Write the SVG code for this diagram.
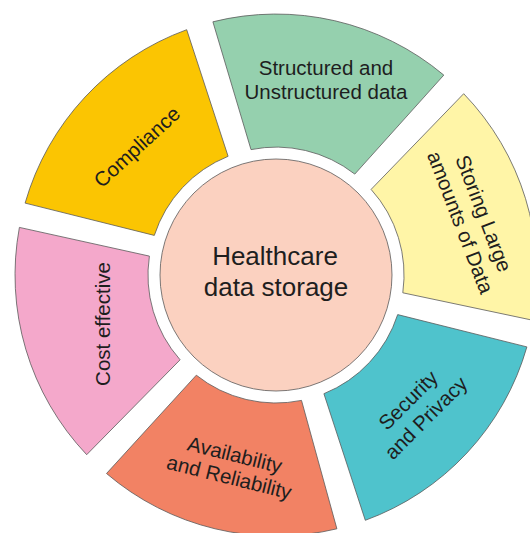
<svg xmlns="http://www.w3.org/2000/svg" width="530" height="533" viewBox="0 0 530 533">
<style>
.seg{stroke:#5a5a5a;stroke-width:0.8}
.lbl{font-family:"Liberation Sans",Arial,sans-serif;font-size:20.5px;fill:#1e1e1e;text-anchor:middle}
.ctr{font-family:"Liberation Sans",Arial,sans-serif;font-size:26px;fill:#1e1e1e;text-anchor:middle}
</style>
<rect width="530" height="533" fill="#ffffff"/>
<g id="compliance">
<path class="seg" fill="#FBC502" d="M154.3,235.4 L25.1,203.1 A261,261 0 0 1 186.7,29.7 L228.1,156.3 A128,128 0 0 0 154.3,235.4 Z"/>
<text class="lbl" transform="translate(137,147) rotate(-42.5)" y="7">Compliance</text>
</g>
<g id="structured">
<path class="seg" fill="#95D0AE" d="M251,149.6 L212.9,21.8 A261,261 0 0 1 443.8,75.1 L354.8,174.1 A128,128 0 0 0 251,149.6 Z"/>
<text class="lbl" x="326" y="75">Structured and</text>
<text class="lbl" x="326" y="99">Unstructured data</text>
</g>
<g id="storing">
<path class="seg" fill="#FFF5A7" d="M371.1,189.4 L463.7,93.7 A261,261 0 0 1 533,320.3 L402.8,292.8 A128,128 0 0 0 371.1,189.4 Z"/>
<g transform="translate(472,218) rotate(69)">
<text class="lbl" y="-5.5">Storing Large</text>
<text class="lbl" y="19.5">amounts of Data</text>
</g>
</g>
<g id="security">
<path class="seg" fill="#4FC3CC" d="M397.7,314.6 L526.9,346.9 A261,261 0 0 1 365.3,520.3 L323.9,393.7 A128,128 0 0 0 397.7,314.6 Z"/>
<g transform="translate(417,409) rotate(-45)">
<text class="lbl" y="-5.5">Security</text>
<text class="lbl" y="19.5">and Privacy</text>
</g>
</g>
<g id="availability">
<path class="seg" fill="#F28264" d="M301.5,400.4 L336.9,528.8 A261,261 0 0 1 106.5,473.5 L196.3,375.2 A128,128 0 0 0 301.5,400.4 Z"/>
<g transform="translate(232,466) rotate(14)">
<text class="lbl" y="-4.5">Availability</text>
<text class="lbl" y="18.5">and Reliability</text>
</g>
</g>
<g id="cost">
<path class="seg" fill="#F4A8CB" d="M180.1,359.8 L86.7,454.7 A261,261 0 0 1 19.4,227.4 L149.4,256.1 A128,128 0 0 0 180.1,359.8 Z"/>
<text class="lbl" transform="translate(103,324) rotate(-90)" y="7">Cost effective</text>
</g>
<g id="center">
<circle class="seg" cx="276" cy="275" r="116" fill="#FBD1C0"/>
<text class="ctr" x="275" y="265">Healthcare</text>
<text class="ctr" x="276" y="296">data storage</text>
</g>
<g id="connectors"></g>
</svg>
